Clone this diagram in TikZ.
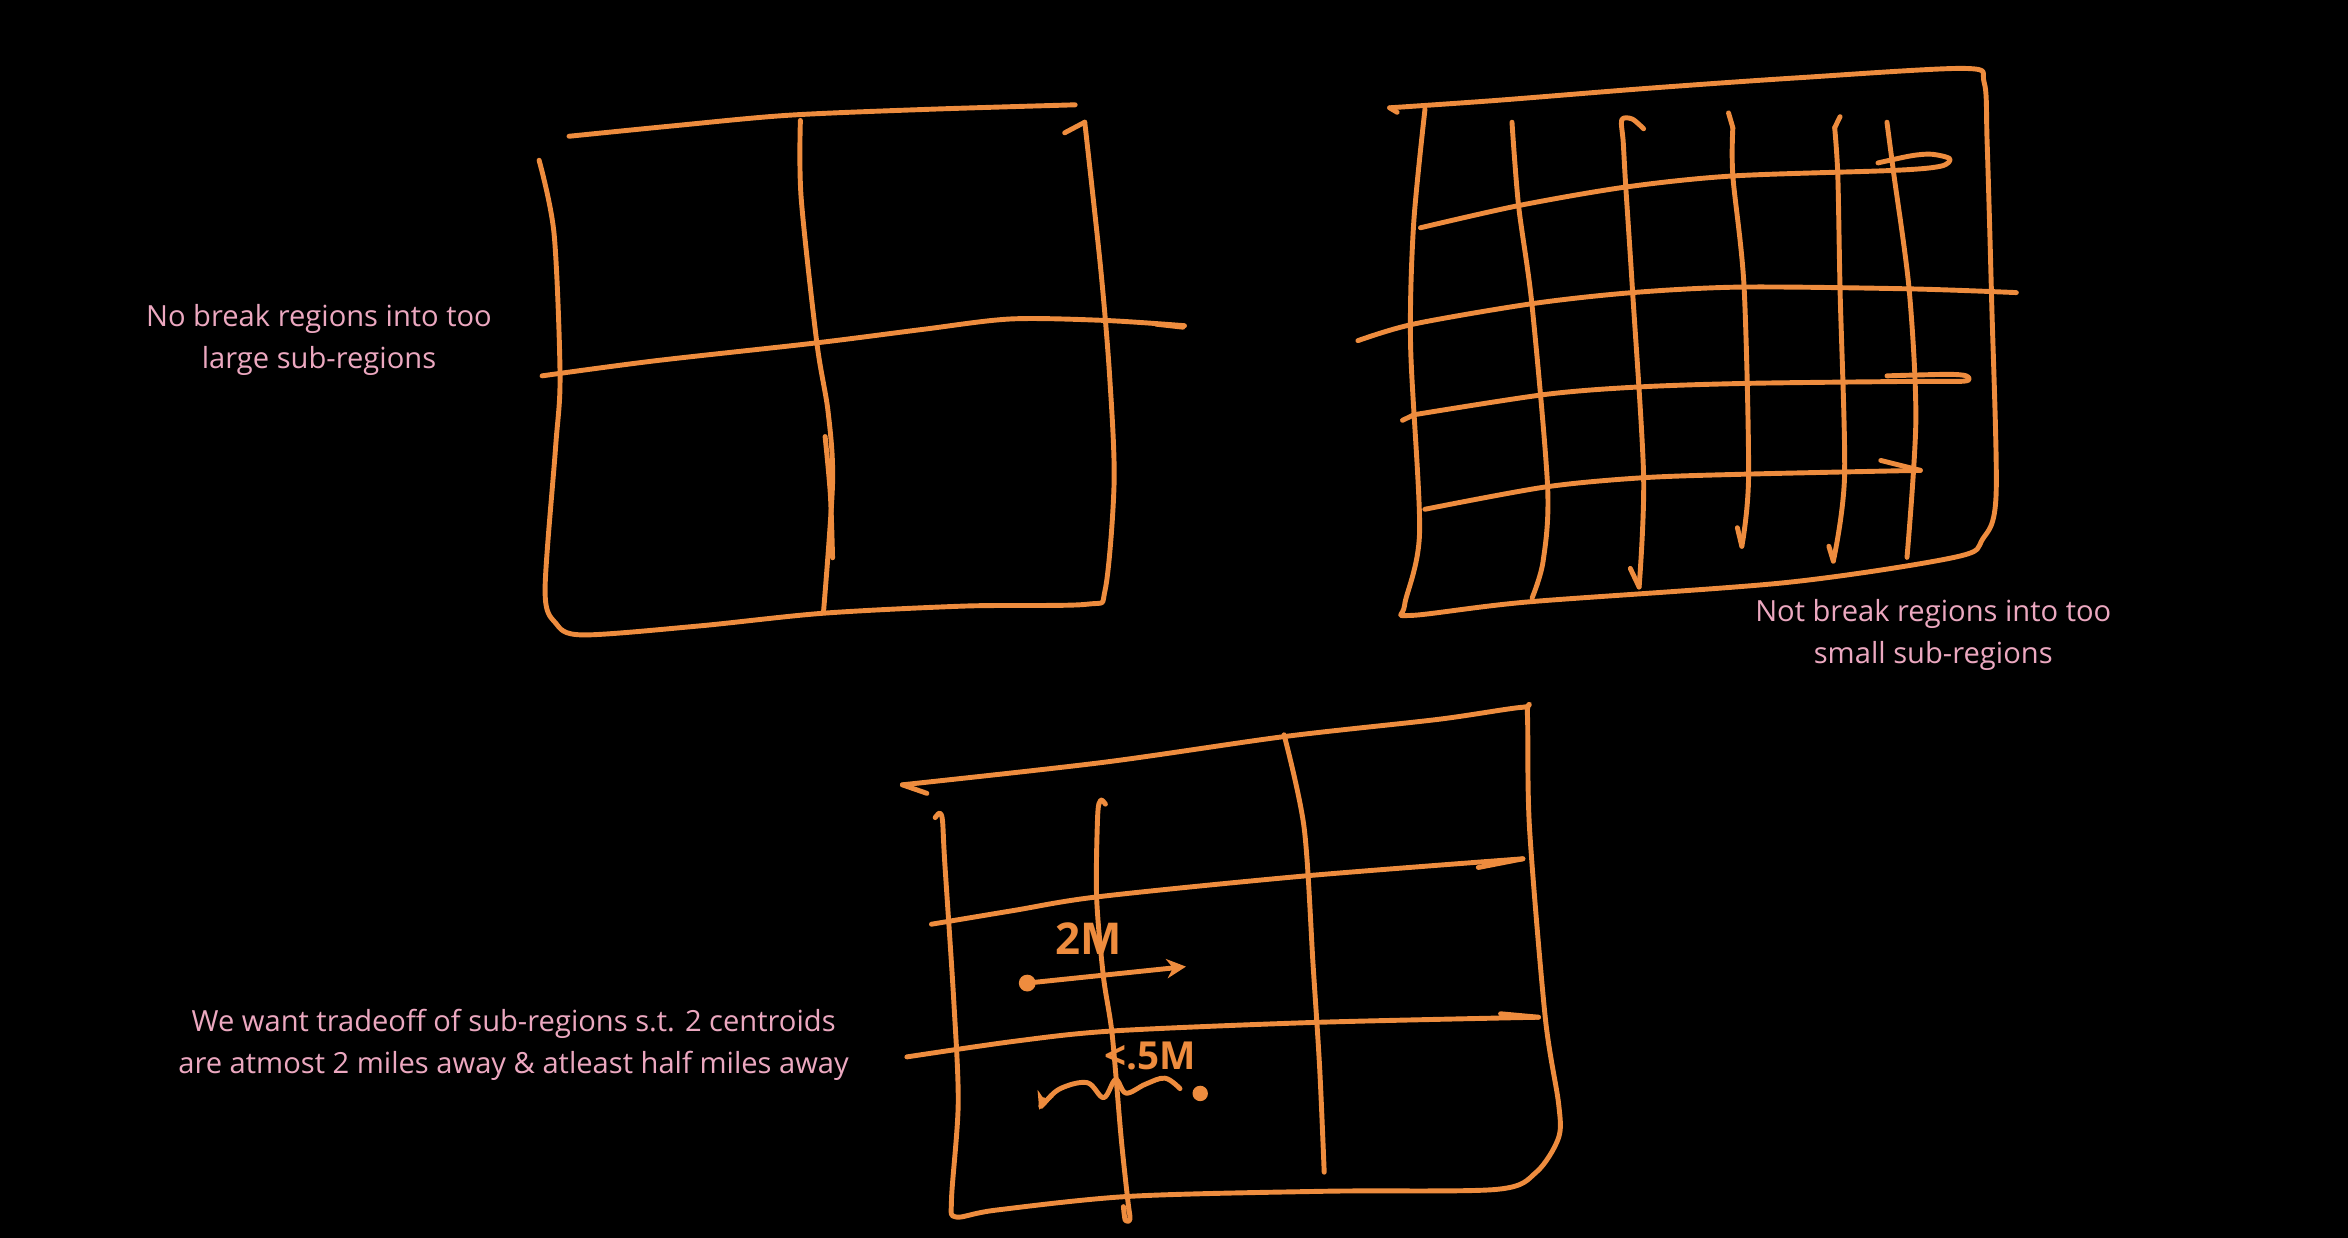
\documentclass[tikz,border=0pt]{standalone}
\usepackage{fontspec}
\setmainfont{Open Sans}
\usetikzlibrary{arrows.meta}
\definecolor{ink}{RGB}{238,140,62}
\definecolor{pinktext}{RGB}{236,168,192}
\begin{document}
\begin{tikzpicture}[x=0.015cm, y=-0.015cm,
  pen/.style={draw=ink, line width=1.4pt, line cap=round, line join=round},
  lbl/.style={text=pinktext, font=\fontsize{8.3}{11.9}\selectfont, align=center, inner sep=0pt},
  hand/.style={text=ink, inner sep=0pt}]
\useasboundingbox (0,0) rectangle (1568,826.74);
\fill[black] (0,0) rectangle (1568,826.74);

% ---------- Grid 1 (2x2) ----------
\draw[pen] plot[smooth,tension=0.5] coordinates {(380,91) (450,84) (526,77) (620,73) (718,70)};
\draw[pen] plot[smooth,tension=0.5] coordinates {(360,107) (370,156) (374,251) (371,299) (364,394) (371,416) (389,424) (467,418) (550,409.5) (645,404.7) (726,403.5) (738,394) (744,322) (741,251) (735,179) (724.4,81.6)};
\draw[pen] (724.4,81.6) -- (711,88.7);
\draw[pen] plot[smooth,tension=0.5] coordinates {(362,251) (437,241) (545,229) (616,220) (675,213) (738,214) (791,217.5)};
\draw[pen] (772,216.5) -- (790,218.5);
\draw[pen] plot[smooth,tension=0.5] coordinates {(534.5,80.4) (535,132) (545.5,229) (553,275) (556,322) (550,408)};
\draw[pen] plot[smooth,tension=0.5] coordinates {(551,291.5) (554.5,330) (556,372.5)};

% ---------- Grid 2 (fine) ----------
\draw[pen] (933,75) -- (928,72);
\draw[pen] plot[smooth,tension=0.5] coordinates {(928,72) (1000,67) (1100,59) (1200,52) (1312,45.7) (1325,55) (1327,95) (1330,200) (1333,330) (1324,360) (1306,372) (1193,389) (1020,402) (942,411) (938,404) (948,355) (942,231) (944,150) (951.6,73)};
% verticals
\draw[pen] plot[smooth,tension=0.5] coordinates {(1009.7,81.6) (1014.1,137.3) (1023.1,204) (1033.5,325.2) (1030.5,374.7) (1023.1,399.4)};
\draw[pen] plot[smooth,tension=0.5] coordinates {(1097.6,86) (1090,79.5) (1083,80) (1084,95) (1085.7,124.9) (1090.2,194.1) (1097.6,317.8) (1094.6,392)};
\draw[pen] (1094.6,392) -- (1088.7,379.6);
\draw[pen] (1154.3,75.4) -- (1157.2,85.3);
\draw[pen] plot[smooth,tension=0.5] coordinates {(1157.2,85.3) (1157.2,117.5) (1164.7,191.7) (1167.7,317.8) (1163.2,364.8)};
\draw[pen] (1163.2,364.8) -- (1160.2,352.4);
\draw[pen] (1228.8,77.9) -- (1225.2,85.3);
\draw[pen] plot[smooth,tension=0.5] coordinates {(1225.2,85.3) (1227.3,117.5) (1228.8,194.1) (1231.8,317.8) (1224.3,374.7)};
\draw[pen] (1224.3,374.7) -- (1221.3,364.8);
\draw[pen] plot[smooth,tension=0.5] coordinates {(1260.1,81.6) (1264.5,115) (1275,194.1) (1279.4,280.7) (1273.5,372.2)};
% horizontals
\draw[pen] plot[smooth,tension=0.5] coordinates {(948.6,152.1) (1014.1,137.3) (1085.7,124.9) (1157.2,117.5) (1264.5,113.8) (1296,111) (1302,106) (1290,103) (1276.5,104) (1254.1,108.8)};
\draw[pen] plot[smooth,tension=0.5] coordinates {(906.8,227.5) (944.1,216.4) (1023.1,202.8) (1090.2,195.4) (1163.2,191.7) (1275,192.9) (1346.5,195.4)};
\draw[pen] (936.6,280.7) -- (944.1,277);
\draw[pen] plot[smooth,tension=0.5] coordinates {(944.1,277) (1032,263.4) (1094.6,258.4) (1167.7,256) (1276.5,254.7) (1312,254.5) (1313,251) (1300,250) (1260.1,251)};
\draw[pen] plot[smooth,tension=0.5] coordinates {(951.5,340.1) (1032,325.2) (1097.6,319) (1167.7,316.6) (1282.4,314.1)};
\draw[pen] (1282.4,314.1) -- (1256,307.5);

% ---------- Grid 3 (3x3) ----------
\draw[pen] (619,529.8) -- (602.6,524.1);
\draw[pen] plot[smooth,tension=0.5] coordinates {(602.6,524.1) (736.8,509.1) (857.5,491.9) (960.3,480.4) (1017,472.3) (1020,477) (1021.4,552.8) (1031.9,679.3) (1040.8,736.8) (1040.8,759.8) (1025.9,782.8) (999.1,794.3) (885.8,795.5) (754.6,798.9) (665.2,808.1) (638.4,812.7) (635.4,801.2) (639.9,736.8) (636.9,667.8) (630.9,575.8) (629.4,548) (627.5,543) (624.5,546)};
\draw[pen] plot[smooth,tension=0.5] coordinates {(738.2,537) (735,534.4) (733,545) (732.3,598.8) (736.8,651.7) (742.7,690.8) (748.7,759.8) (753.1,801.2) (754.6,814) (751.5,815) (750.2,805.8)};
\draw[pen] plot[smooth,tension=0.5] coordinates {(857.5,490.7) (870.9,552.8) (876.9,644.8) (881.3,713.8) (884.3,782.8)};
\draw[pen] plot[smooth,tension=0.5] coordinates {(622,617.2) (677.1,608) (733.8,598.8) (870.9,585) (1017,573.5)};
\draw[pen] (1017,573.5) -- (987.2,579.3);
\draw[pen] plot[smooth,tension=0.5] coordinates {(605.6,705.8) (677.1,695.4) (742.7,688.5) (876.9,682.8) (1027.4,679.3)};
\draw[pen] (1027.4,679.3) -- (1002.1,677);

% ---------- annotations in grid 3 ----------
\node[hand, font=\fontsize{12.5}{14}\selectfont\bfseries] (m2) at (727,627) {2M};
\coordinate (a2s) at (686,656.5);
\coordinate (a2e) at (792,645.5);
\fill[ink] (a2s) circle[radius=2.4pt];
\draw[pen, -{Stealth[length=5.5pt,width=5.5pt]}] (a2s) -- (a2e);
\node[hand, font=\fontsize{11}{13}\selectfont\bfseries] (m5) at (768,705) {<.5M};
\coordinate (wdot) at (801.5,730.2);
\fill[ink] (wdot) circle[radius=2.2pt];
\draw[pen, -{Stealth[length=5pt,width=5pt]}] plot[smooth,tension=0.6] coordinates {(788,727) (778,720) (765,724) (752,730) (745,721) (737,733) (726,723) (708,727) (697,737) (694,741)};

% ---------- labels ----------
\node[lbl] (t1) at (213,227) {No break regions into too\\large sub-regions};
\node[lbl] (t2) at (1291,424) {Not break regions into too\\small sub-regions};
\node[lbl] (t3) at (343,698) {We want tradeoff of sub-regions s.t. 2 centroids\\are atmost 2 miles away \& atleast half miles away};
\end{tikzpicture}
\end{document}
